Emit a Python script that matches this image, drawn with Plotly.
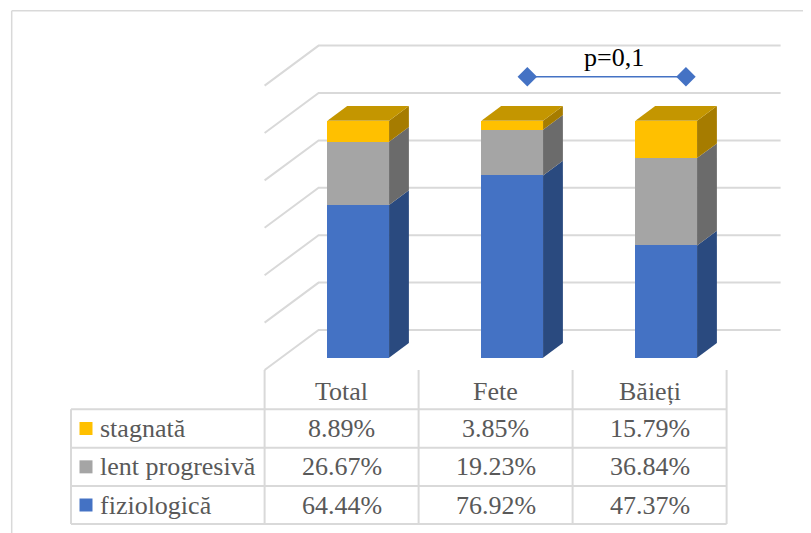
"""
3D-look stacked bars (evolution type by group) with a data table underneath,
rebuilt in Plotly from an Excel chart.
"""

import plotly.graph_objects as go

# ---- data ----
categories = ["Total", "Fete", "Băieți"]
series_names = ["fiziologică", "lent progresivă", "stagnată"]   # bottom -> top
fiziologica = [64.44, 76.92, 47.37]
lent_progresiva = [26.67, 19.23, 36.84]
stagnata = [8.89, 3.85, 15.79]
grid_ticks = [0, 20, 40, 60, 80, 100, 120]
p_label = "p=0,1"
p_pair = [1, 2]          # Fete vs Băieți

series_values = [fiziologica, lent_progresiva, stagnata]
front_colors = ["#4472C4", "#A5A5A5", "#FFC000"]
side_colors = ["#2A4A7F", "#6B6B6B", "#A67C00"]
top_colors = ["#3A62A8", "#8C8C8C", "#C49600"]

# ---- geometry (pixels of the 811x533 page) ----
PAGE_W, PAGE_H = 811, 533
OFF = 8           # body margin of the html page
W, H = PAGE_W - OFF, PAGE_H - OFF
PX_X = 154.0      # px per category
PX_Y = 2.37       # px per percent
X0_PX = 341.6     # page x of first category centre (front of floor)
Y0_PX = 357.7     # page y of bar front bottom
K = 1.35          # oblique depth: x px per y px of depth
D_BAR = 12.3      # depth of bar front face from floor front (px)
D_BAR_BACK = 27.0
D_WALL = 40.0
BAR_W = 61.7 / PX_X

FONT = "Liberation Serif, Times New Roman, serif"
FS = 26
TXT = "#595959"
GRID = "#D9D9D9"


def px_to_y(py):
    return (Y0_PX - py) / PX_Y


def px_to_x(px):
    return (px - X0_PX) / PX_X


def pos(xc, yv, d):
    """floor-front x, value, depth px -> data coords"""
    return xc + d * K / PX_X, yv + (d - D_BAR) / PX_Y


fig = go.Figure()
shapes = []
n = len(categories)

# back wall gridlines + left wall diagonals (below the bars)
for g in grid_ticks:
    xa, ya = pos(-0.5, g, D_WALL)
    xb, yb = pos(n - 0.5, g, D_WALL)
    xf, yf = pos(-0.5, g, 0)
    shapes.append(dict(type="path", xref="x", yref="y", layer="below",
                       path=f"M{xf},{yf} L{xa},{ya} L{xb},{yb}",
                       line=dict(color=GRID, width=2)))

# bars: front faces through go.Bar, side/top faces as filled polygons
bar_x = [pos(i, 0, D_BAR)[0] for i in range(n)]
bdx = (D_BAR_BACK - D_BAR) * K / PX_X
bdy = (D_BAR_BACK - D_BAR) / PX_Y

for s, vals in enumerate(series_values):
    fig.add_trace(go.Bar(x=bar_x, y=vals, width=BAR_W, name=series_names[s],
                         marker=dict(color=front_colors[s], line=dict(width=0)),
                         hoverinfo="skip", showlegend=False))

for i in range(n):
    base = 0
    xr = bar_x[i] + BAR_W / 2
    xl = bar_x[i] - BAR_W / 2
    for s, vals in enumerate(series_values):
        top = base + vals[i]
        fig.add_trace(go.Scatter(
            x=[xr, xr + bdx, xr + bdx, xr, xr],
            y=[base, base + bdy, top + bdy, top, base],
            fill="toself", fillcolor=side_colors[s], mode="lines",
            line=dict(width=0, color=side_colors[s]),
            hoverinfo="skip", showlegend=False))
        base = top
    fig.add_trace(go.Scatter(
        x=[xl, xr, xr + bdx, xl + bdx, xl],
        y=[base, base, base + bdy, base + bdy, base],
        fill="toself", fillcolor=top_colors[-1], mode="lines",
        line=dict(width=0, color=top_colors[-1]),
        hoverinfo="skip", showlegend=False))

# significance bracket
brk_off = [0.206, 0.236]
brk_x = [p_pair[0] + brk_off[0], p_pair[1] + brk_off[1]]
brk_y = px_to_y(76.7)
fig.add_trace(go.Scatter(x=brk_x, y=[brk_y, brk_y], mode="lines+markers",
                         line=dict(color="#4472C4", width=1.5),
                         marker=dict(symbol="diamond", size=15, color="#4472C4"),
                         hoverinfo="skip", showlegend=False))
fig.add_annotation(x=1.77, y=px_to_y(57.5), text=p_label, showarrow=False,
                   font=dict(family=FONT, size=FS, color="#000000"),
                   xanchor="center", yanchor="middle")

# ---- data table ----
row_px = [409.3, 447.7, 486.0, 524.0]
head_top_px = 370.0
tab_left = px_to_x(71)
row_y = [px_to_y(p) for p in row_px]
head_top = px_to_y(head_top_px)

line_style = dict(color=GRID, width=2)
for yy in row_y:
    shapes.append(dict(type="line", xref="x", yref="y", x0=tab_left, x1=n - 0.5,
                       y0=yy, y1=yy, line=line_style))
shapes.append(dict(type="line", xref="x", yref="y", x0=tab_left, x1=tab_left,
                   y0=row_y[0], y1=row_y[-1], line=line_style))
for i in range(n + 1):
    shapes.append(dict(type="line", xref="x", yref="y", x0=i - 0.5, x1=i - 0.5,
                       y0=head_top, y1=row_y[-1], line=line_style))

# outer chart border (left / top)
bx = (11.7 - OFF) / W
by = 1 - (10.7 - OFF) / H
shapes.append(dict(type="line", xref="paper", yref="paper", x0=bx, x1=bx,
                   y0=0, y1=by, line=dict(color=GRID, width=1.5)))
shapes.append(dict(type="line", xref="paper", yref="paper", x0=bx, x1=1,
                   y0=by, y1=by, line=dict(color=GRID, width=1.5)))

for i, c in enumerate(categories):
    fig.add_annotation(x=i, y=(head_top + row_y[0]) / 2 - 0.6, text=c, showarrow=False,
                       font=dict(family=FONT, size=FS, color=TXT),
                       xanchor="center", yanchor="middle")

table_rows = list(reversed(range(len(series_values))))   # stagnată first
key_x = px_to_x(86)
label_x = px_to_x(98)
for r, s in enumerate(table_rows):
    yc = (row_y[r] + row_y[r + 1]) / 2
    fig.add_trace(go.Scatter(x=[key_x], y=[yc], mode="markers",
                             marker=dict(symbol="square", size=13, color=front_colors[s]),
                             hoverinfo="skip", showlegend=False))
    fig.add_annotation(x=label_x, y=yc, text=series_names[s], showarrow=False,
                       font=dict(family=FONT, size=FS, color=TXT),
                       xanchor="left", yanchor="middle")
    for i in range(n):
        fig.add_annotation(x=i, y=yc, text=f"{series_values[s][i]:.2f}%", showarrow=False,
                           font=dict(family=FONT, size=FS, color=TXT),
                           xanchor="center", yanchor="middle")

fig.update_layout(
    width=W, height=H, autosize=False,
    margin=dict(l=0, r=0, t=0, b=0),
    paper_bgcolor="white", plot_bgcolor="rgba(0,0,0,0)",
    barmode="stack", bargap=0,
    shapes=shapes,
    xaxis=dict(range=[px_to_x(OFF), px_to_x(PAGE_W)], visible=False, fixedrange=True),
    yaxis=dict(range=[px_to_y(PAGE_H), px_to_y(OFF)], visible=False, fixedrange=True),
)

fig.write_html("out.html")
